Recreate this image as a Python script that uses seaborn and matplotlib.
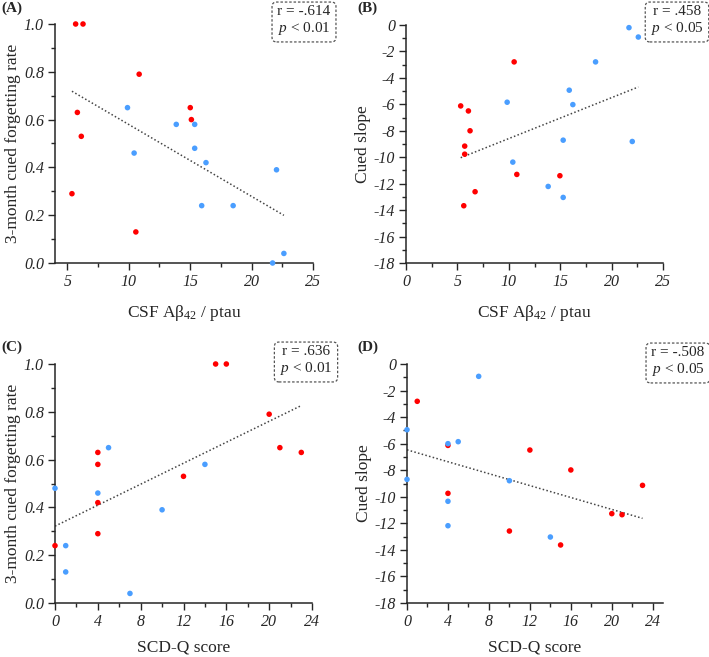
import matplotlib
matplotlib.use("Agg")
import matplotlib.pyplot as plt
from matplotlib.ticker import MultipleLocator, FormatStrFormatter
import numpy as np
import pandas as pd
import seaborn as sns

# ---- data ----
# (A) CSF Abeta42/ptau vs 3-month cued forgetting rate
a_red_x = [5.68, 6.28, 5.82, 6.14, 5.38, 10.85, 15.01, 15.10, 10.58]
a_red_y = [1.00, 1.00, 0.63, 0.53, 0.29, 0.79, 0.65, 0.60, 0.13]
a_blue_x = [9.90, 10.44, 13.87, 15.37, 15.37, 16.29, 15.94, 18.50, 22.03, 21.71, 22.63]
a_blue_y = [0.65, 0.46, 0.58, 0.58, 0.48, 0.42, 0.24, 0.24, 0.39, 0.00, 0.04]

# (B) CSF Abeta42/ptau vs cued slope
b_red_x = [5.32, 6.07, 6.23, 5.71, 5.71, 6.72, 5.62, 10.52, 10.78, 14.97]
b_red_y = [-6.12, -6.50, -8.00, -9.16, -9.77, -12.61, -13.67, -2.79, -11.30, -11.40]
b_blue_x = [9.84, 10.39, 13.83, 15.29, 15.29, 15.88, 16.23, 18.44, 21.69, 22.60, 22.01]
b_blue_y = [-5.84, -10.37, -12.21, -8.71, -13.04, -4.93, -6.02, -2.79, -0.20, -0.91, -8.81]

# (C) SCD-Q score vs 3-month cued forgetting rate
c_red_x = [0, 4, 4, 4, 4, 12, 15, 16, 20, 21, 23]
c_red_y = [0.24, 0.63, 0.58, 0.42, 0.29, 0.53, 1.00, 1.00, 0.79, 0.65, 0.63]
c_blue_x = [0, 1, 1, 4, 5, 7, 10, 14]
c_blue_y = [0.48, 0.24, 0.13, 0.46, 0.65, 0.04, 0.39, 0.58]

# (D) SCD-Q score vs cued slope
d_red_x = [1, 4, 4, 10, 12, 15, 16, 20, 21, 23]
d_red_y = [-2.81, -6.13, -9.74, -12.58, -6.48, -13.63, -7.98, -11.27, -11.35, -9.14]
d_blue_x = [0, 0, 4, 4, 4, 5, 7, 10, 14]
d_blue_y = [-4.95, -8.69, -6.00, -10.34, -12.18, -5.85, -0.93, -8.79, -13.03]

stats_text = ["r = -.614\n$p$ < 0.01", "r = .458\n$p$ < 0.05",
              "r = .636\n$p$ < 0.01", "r = -.508\n$p$ < 0.05"]
panel_labels = ["(A)", "(B)", "(C)", "(D)"]
xlabels = ["CSF Aβ$_{42}$ / ptau", "CSF Aβ$_{42}$ / ptau", "SCD-Q score", "SCD-Q score"]
ylabels = ["3-month cued forgetting rate", "Cued slope",
           "3-month cued forgetting rate", "Cued slope"]

sns.set_style("ticks")
plt.rcParams["font.family"] = ["Liberation Serif", "DejaVu Serif"]
plt.rcParams["font.style"] = "italic"  # tick labels are italic; other text overrides
plt.rcParams["mathtext.fontset"] = "custom"
plt.rcParams["mathtext.rm"] = "Liberation Serif:style=normal"
plt.rcParams["mathtext.it"] = "Liberation Serif:style=italic"
plt.rcParams["axes.unicode_minus"] = False

palette = {"red": "#ff0000", "blue": "#4a9eff"}


def make_frame(rx, ry, bx, by):
    return pd.DataFrame({
        "x": rx + bx,
        "y": ry + by,
        "group": ["red"] * len(rx) + ["blue"] * len(bx),
    })


frames = [
    make_frame(a_red_x, a_red_y, a_blue_x, a_blue_y),
    make_frame(b_red_x, b_red_y, b_blue_x, b_blue_y),
    make_frame(c_red_x, c_red_y, c_blue_x, c_blue_y),
    make_frame(d_red_x, d_red_y, d_blue_x, d_blue_y),
]

W, H = 709, 657
fig = plt.figure(figsize=(W / 100, H / 100), dpi=100)


def px_axes(left, right, top, bottom):
    return fig.add_axes([left / W, 1 - bottom / H, (right - left) / W, (bottom - top) / H])


axes = [
    px_axes(55, 313, 24, 263),
    px_axes(406, 663, 25, 263),
    px_axes(55, 312, 364, 603),
    px_axes(407, 663, 364, 603),
]

limits = [
    dict(xlim=(4, 25), ylim=(0, 1), xmaj=5, xmin=2.5, ymaj=0.2, ymin=0.1, fmt="%.1f"),
    dict(xlim=(0, 25), ylim=(-18, 0), xmaj=5, xmin=2.5, ymaj=2, ymin=1, fmt="%d"),
    dict(xlim=(0, 24), ylim=(0, 1), xmaj=4, xmin=2, ymaj=0.2, ymin=0.1, fmt="%.1f"),
    dict(xlim=(0, 25), ylim=(-18, 0), xmaj=4, xmin=2, ymaj=2, ymin=1, fmt="%d"),
]

box_pos = [(304, 21), (677, 21), (306, 361), (678, 362)]
label_pos = [(1, 8), (357, 8), (1, 347), (357, 347)]
xlabel_pad = [9, 9, 7, 7]

for i, (ax, df, lim) in enumerate(zip(axes, frames, limits)):
    sns.regplot(data=df, x="x", y="y", scatter=False, ci=None, truncate=True, ax=ax,
                line_kws=dict(color="#444444", lw=1.1, ls=(0, (1, 1.5))))
    sns.scatterplot(data=df, x="x", y="y", hue="group", palette=palette, s=16,
                    linewidth=0, legend=False, ax=ax, clip_on=False, zorder=3)
    ax.set_xlim(*lim["xlim"])
    ax.set_ylim(*lim["ylim"])
    ax.xaxis.set_major_locator(MultipleLocator(lim["xmaj"]))
    ax.xaxis.set_minor_locator(MultipleLocator(lim["xmin"]))
    ax.yaxis.set_major_locator(MultipleLocator(lim["ymaj"]))
    ax.yaxis.set_minor_locator(MultipleLocator(lim["ymin"]))
    ax.yaxis.set_major_formatter(FormatStrFormatter(lim["fmt"]))
    ax.tick_params(which="major", length=5, width=1, labelsize=11.5, pad=3)
    ax.tick_params(which="minor", length=3, width=1)
    sns.despine(ax=ax)
    for sp in ("left", "bottom"):
        ax.spines[sp].set_linewidth(1.1)
    ax.set_xlabel(xlabels[i], fontsize=12.5, labelpad=xlabel_pad[i], fontstyle="normal")
    ax.set_ylabel(ylabels[i], fontsize=12.5, labelpad=2, fontstyle="normal")

    bx, by = box_pos[i]
    fig.text(bx / W, 1 - by / H, stats_text[i], ha="center", va="center",
             fontsize=11, linespacing=1.1, fontstyle="normal",
             bbox=dict(boxstyle="round,pad=0.35,rounding_size=0.3", fc="white",
                       ec="#555555", ls=(0, (2, 1.5)), lw=0.9))
    lx, ly = label_pos[i]
    fig.text(lx / W, 1 - ly / H, panel_labels[i], ha="left", va="center",
             fontsize=11, fontweight="bold", fontstyle="normal")

fig.savefig("out.png", dpi=100)
